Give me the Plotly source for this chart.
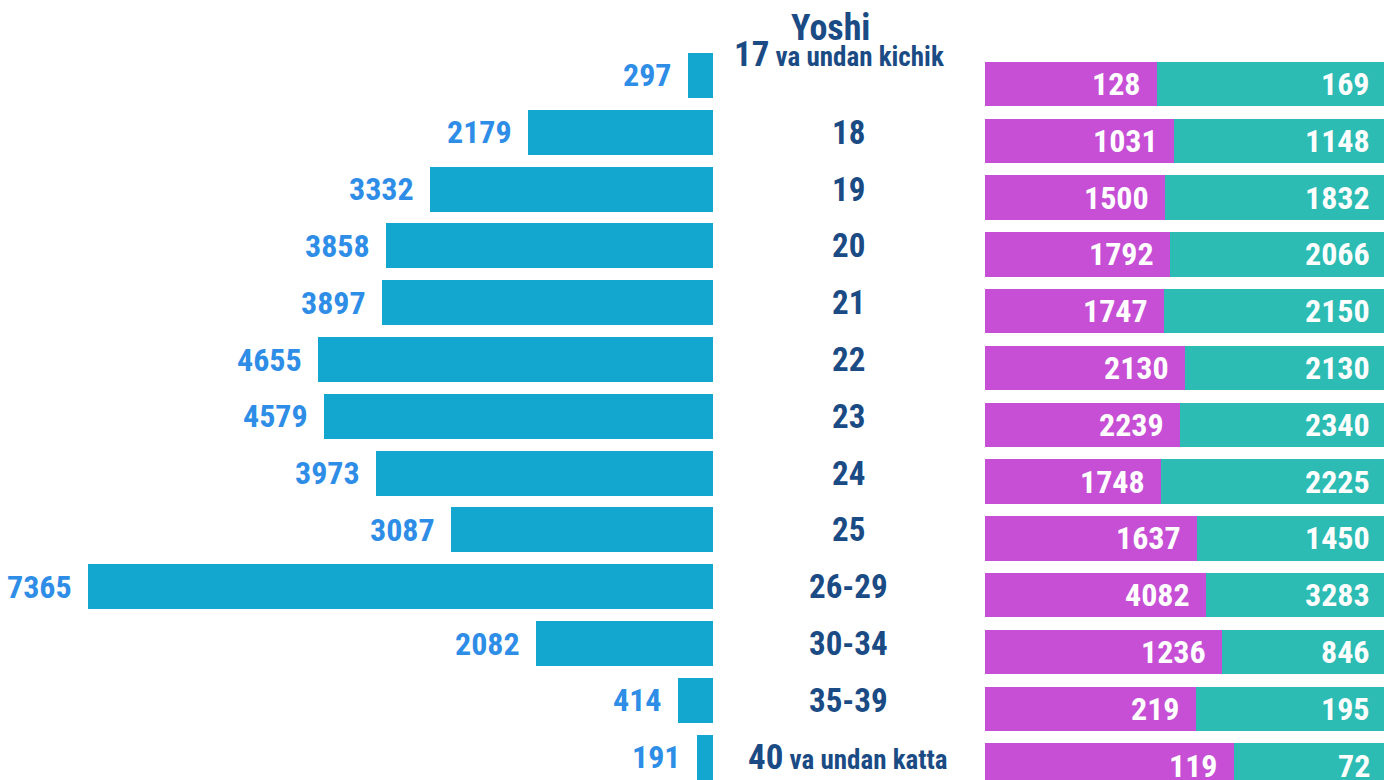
import plotly.graph_objects as go

categories = ["17 va undan kichik", "18", "19", "20", "21", "22", "23", "24", "25",
              "26-29", "30-34", "35-39", "40 va undan katta"]
totals = [297, 2179, 3332, 3858, 3897, 4655, 4579, 3973, 3087, 7365, 2082, 414, 191]
female = [128, 1031, 1500, 1792, 1747, 2130, 2239, 1748, 1637, 4082, 1236, 219, 119]
male = [169, 1148, 1832, 2066, 2150, 2130, 2340, 2225, 1450, 3283, 846, 195, 72]
header = "Yoshi"

FONT = "Roboto Condensed, Liberation Sans Narrow, Roboto, Arial Narrow, sans-serif"
BLUE = "#2e8de6"
NAVY = "#1b4b84"

pos = list(range(len(categories)))
f_pct = [f / (f + m) * 100 for f, m in zip(female, male)]
m_pct = [m / (f + m) * 100 for f, m in zip(female, male)]

fig = go.Figure()

fig.add_trace(go.Bar(
    y=pos, x=totals, orientation="h", xaxis="x", yaxis="y",
    marker=dict(color="#13a6cf", line=dict(width=0)), width=0.79,
    hoverinfo="x", showlegend=False,
))
fig.add_trace(go.Bar(
    y=pos, x=f_pct, orientation="h", xaxis="x2", yaxis="y2",
    marker=dict(color="#c64fd5", line=dict(width=0)), width=0.78,
    customdata=female, hovertemplate="%{customdata}<extra></extra>", showlegend=False,
))
fig.add_trace(go.Bar(
    y=pos, x=m_pct, orientation="h", xaxis="x2", yaxis="y2",
    marker=dict(color="#2cbcb4", line=dict(width=0)), width=0.78,
    customdata=male, hovertemplate="%{customdata}<extra></extra>", showlegend=False,
))

ann = []
for p, v in zip(pos, totals):
    ann.append(dict(x=v, y=p, xref="x", yref="y", text=f"<b>{v}</b>", showarrow=False,
                    xanchor="right", xshift=-14, font=dict(family=FONT, size=32, color=BLUE)))
for p, fp, f, m in zip(pos, f_pct, female, male):
    ann.append(dict(x=fp, y=p, xref="x2", yref="y2", text=f"<b>{f}</b>", showarrow=False,
                    xanchor="right", xshift=-14, font=dict(family=FONT, size=32, color="white")))
    ann.append(dict(x=100, y=p, xref="x2", yref="y2", text=f"<b>{m}</b>", showarrow=False,
                    xanchor="right", xshift=-12, font=dict(family=FONT, size=32, color="white")))
for p, c in zip(pos, categories):
    parts = c.split(" ", 1)
    if len(parts) == 2:
        txt = f"<b>{parts[0]}</b><b><span style='font-size:27px'> {parts[1]}</span></b>"
        size = 35
    else:
        txt = f"<b>{c}</b>"
        size = 33
    ann.append(dict(x=0.613 if p else 0.606, y=p, xref="paper", yref="y", text=txt, showarrow=False,
                    xanchor="center", yshift=21 if p == 0 else 0,
                    font=dict(family=FONT, size=size, color=NAVY)))
ann.append(dict(x=0.6, y=1 - 28 / 780, xref="paper", yref="paper", text=f"<b>{header}</b>",
                showarrow=False, xanchor="center", yanchor="middle",
                font=dict(family=FONT, size=36, color=NAVY)))

fig.update_layout(
    width=1384, height=780,
    margin=dict(l=0, r=0, t=0, b=0),
    paper_bgcolor="white", plot_bgcolor="white",
    barmode="stack", bargap=0,
    xaxis=dict(domain=[0, 713 / 1384], range=[8400, 0], visible=False, fixedrange=True),
    yaxis=dict(range=[12.403, -1.329], visible=False, fixedrange=True),
    xaxis2=dict(domain=[985 / 1384, 1.0], range=[0, 100], visible=False, anchor="y2", fixedrange=True),
    yaxis2=dict(range=[12.253, -1.479], visible=False, anchor="x2", overlaying="y", fixedrange=True),
    annotations=ann,
)

fig.write_html("out.html", config={"displayModeBar": False}, post_script=[
    "document.body.style.margin='0px';document.body.style.overflow='hidden';"
])
